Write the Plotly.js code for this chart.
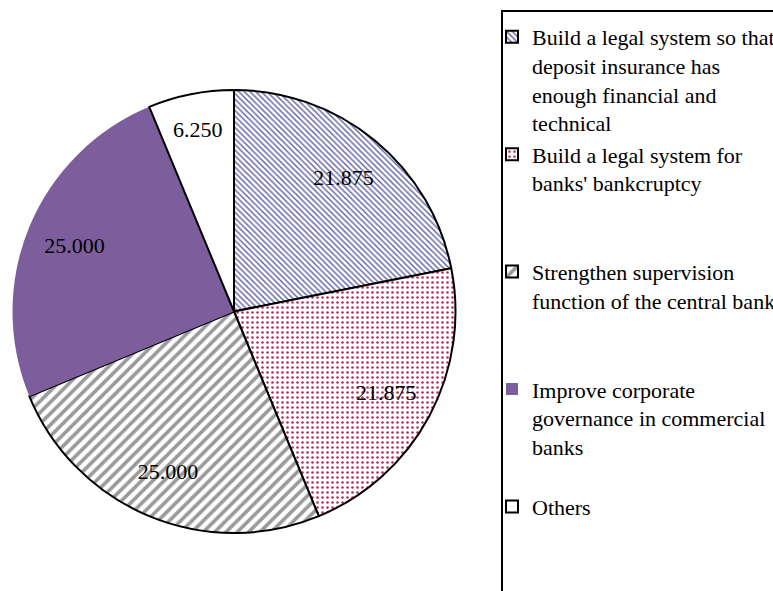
<!DOCTYPE html>
<html>
<head>
<meta charset="utf-8">
<script src="https://cdn.plot.ly/plotly-3.0.1.min.js"></script>
<style>html,body{margin:0;padding:0;background:#fff;}#chart{width:773px;height:591px;}</style>
</head>
<body>
<div id="chart"></div>
<script>
var categories = [
  "Build a legal system so that<br>deposit insurance has<br>enough financial and<br>technical",
  "Build a legal system for<br>banks' bankcruptcy<br>\u00a0<br>\u00a0",
  "Strengthen supervision<br>function of the central bank<br>\u00a0<br>\u00a0",
  "Improve corporate<br>governance in commercial<br>banks<br>\u00a0",
  "Others"
];
var values = [21.875, 21.875, 25.000, 25.000, 6.250];
var patternShapes = ["\\", ".", "/", "", ""];
var patternColors = ["#5f5fa3", "#b8285e", "#9a9a9a", "#7b5e9b", "#ffffff"];
var sliceColors = ["#ffffff", "#ffffff", "#ffffff", "#7b5e9b", "#ffffff"];
var patternSizes = [4, 5, 8, 8, 8];
var patternSolidity = [0.35, 0.2, 0.45, 0.3, 0.3];
var lineWidths = [2, 2, 2, 0, 2];

var pieDomain = {x: [12/773, 456/773], y: [1 - 533/591, 1 - 90/591]};

var slices = {
  type: "pie",
  labels: categories,
  values: values,
  sort: false,
  direction: "clockwise",
  rotation: 0,
  textinfo: "none",
  marker: {
    colors: sliceColors,
    line: {color: "#000", width: lineWidths},
    pattern: {
      shape: patternShapes,
      fgcolor: patternColors,
      bgcolor: sliceColors,
      size: patternSizes,
      solidity: patternSolidity,
      fillmode: "replace"
    }
  },
  hoverinfo: "label+value",
  domain: pieDomain
};

var labelsLayer = {
  type: "pie",
  labels: categories,
  values: values,
  sort: false,
  direction: "clockwise",
  rotation: 0,
  hole: 0.56,
  showlegend: false,
  texttemplate: "%{value:.3f}",
  textposition: "inside",
  insidetextorientation: "horizontal",
  textfont: {family: "Liberation Serif", size: 22, color: "#000"},
  marker: {colors: values.map(function(){return "rgba(0,0,0,0)";}), line: {width: 0}},
  hoverinfo: "skip",
  domain: pieDomain
};

var layout = {
  width: 773, height: 591,
  margin: {l: 0, r: 0, t: 0, b: 0, autoexpand: false},
  paper_bgcolor: "#fff",
  showlegend: true,
  legend: {
    x: 492/773, xanchor: "left",
    y: 1 - 16/591, yanchor: "top",
    valign: "top",
    font: {family: "Liberation Serif", size: 22, color: "#000"},
    bgcolor: "rgba(0,0,0,0)",
    borderwidth: 0,
    itemwidth: 30,
    traceorder: "normal"
  },
  shapes: [{
    type: "rect", xref: "paper", yref: "paper",
    x0: 502/773, x1: 1.05, y0: -0.05, y1: 1 - 11/591,
    line: {color: "#000", width: 2}, fillcolor: "rgba(0,0,0,0)"
  }]
};

Plotly.newPlot("chart", [slices, labelsLayer], layout, {displayModeBar: false, staticPlot: true});
</script>
</body>
</html>
